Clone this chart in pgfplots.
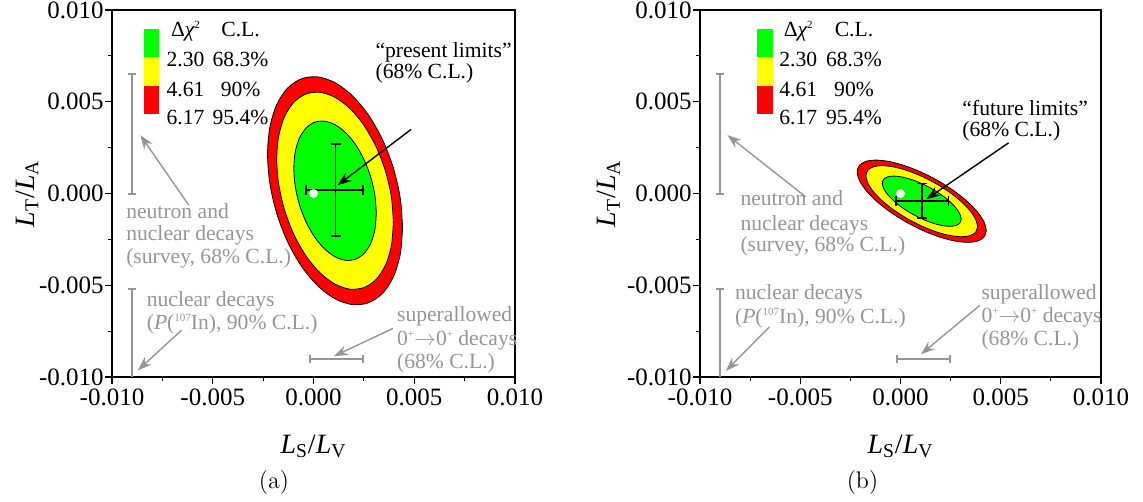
\documentclass[border=0pt]{standalone}
\usepackage{fontspec}
\newfontfamily\tms{Liberation Serif}
\usepackage{pgfplots}
\pgfplotsset{compat=1.18}
\usetikzlibrary{arrows.meta}

\definecolor{cgreen}{RGB}{0,255,0}
\definecolor{cyellow}{RGB}{255,255,0}
\definecolor{cred}{RGB}{255,0,0}
\definecolor{cgray}{RGB}{150,150,150}

\newcommand\annfont{\tms\fontsize{10.8}{12}\selectfont}
\newcommand\tsup[1]{\smash{\raisebox{0.8ex}{\fontsize{5.5}{6}\selectfont #1}}}

\tikzset{
  ann/.style={anchor=base west, inner sep=0pt, font=\annfont},
  gann/.style={ann, text=cgray},
  key/.style={anchor=base, font=\annfont},
}

\pgfplotsset{
  panel/.style={
    scale only axis, height=183.5pt,
    xmin=-10, xmax=10, ymin=-10, ymax=10,
    xtick={-10,-5,0,5,10}, ytick={-10,-5,0,5,10},
    xticklabels={-0.010,-0.005,0.000,0.005,0.010},
    yticklabels={-0.010,-0.005,0.000,0.005,0.010},
    minor tick num=1,
    tick align=outside, xtick pos=bottom, ytick pos=left,
    major tick length=3.5pt, minor tick length=2pt,
    every tick/.style={black, line width=0.6pt},
    axis line style={line width=0.7pt},
    tick label style={font=\tms\fontsize{12.5}{13}\selectfont},
    yticklabel style={inner xsep=0.5pt},
    xticklabel style={inner ysep=2pt},
    label style={font=\tms\fontsize{14}{16}\selectfont},
    xlabel={{\itshape L}\textsubscript{S}/{\itshape L}\textsubscript{V}},
    ylabel={{\itshape L}\textsubscript{T}/{\itshape L}\textsubscript{A}},
    xlabel style={at={(axis description cs:0.5,-0.19)}, anchor=center},
    clip=false,
    unbounded coords=jump,
  },
  cl red/.style={fill=cred, draw=black, line width=0.4pt, smooth},
  cl yellow/.style={fill=cyellow, draw=black, line width=0.4pt, smooth},
  cl green/.style={fill=cgreen, draw=black, line width=0.4pt, smooth},
  graybar/.style={cgray, line width=1pt},
  grayarrow/.style={cgray, line width=0.7pt, -{Stealth[length=7pt,width=5pt]}},
  blackarrow/.style={black, line width=0.7pt, -{Stealth[length=7pt,width=5pt]}},
  crossbar/.style={black, line width=0.8pt},
}

\begin{document}
\begin{tikzpicture}
\path[use as bounding box] (0,0) rectangle (571.5pt,-251pt);

% ---------------- panel (a): present limits ----------------
\begin{axis}[panel, width=201.5pt, at={(56pt,-188.5pt)}, anchor=south west,
  ylabel style={at={(axis description cs:-0.211,0.5)}, anchor=center}]

% confidence regions (Delta chi^2 = 6.17, 4.61, 2.30)
\addplot[cl red] coordinates {(4.42,-1.85) (4.306,-0.258) (3.971,1.363) (3.439,2.901) (2.745,4.251) (1.937,5.321) (1.07,6.04) (0.203,6.357) (-0.605,6.251) (-1.299,5.729) (-1.831,4.827) (-2.166,3.606) (-2.28,2.15) (-2.166,0.558) (-1.831,-1.063) (-1.299,-2.601) (-0.605,-3.951) (0.203,-5.021) (1.07,-5.74) (1.937,-6.057) (2.745,-5.951) (3.439,-5.429) (3.971,-4.527) (4.306,-3.306) (4.42,-1.85)} -- cycle;
\addplot[cl yellow] coordinates {(3.964,-1.578) (3.866,-0.203) (3.576,1.198) (3.117,2.527) (2.517,3.693) (1.819,4.618) (1.07,5.239) (0.321,5.513) (-0.377,5.421) (-0.977,4.97) (-1.436,4.191) (-1.726,3.136) (-1.824,1.878) (-1.726,0.503) (-1.436,-0.898) (-0.977,-2.227) (-0.377,-3.393) (0.321,-4.318) (1.07,-4.939) (1.819,-5.213) (2.517,-5.121) (3.117,-4.67) (3.576,-3.891) (3.866,-2.836) (3.964,-1.578)} -- cycle;
\addplot[cl green] coordinates {(3.117,-1.072) (3.047,-0.099) (2.843,0.891) (2.517,1.831) (2.093,2.656) (1.6,3.309) (1.07,3.749) (0.54,3.942) (0.047,3.878) (-0.377,3.559) (-0.703,3.008) (-0.907,2.262) (-0.977,1.372) (-0.907,0.399) (-0.703,-0.591) (-0.377,-1.531) (0.047,-2.356) (0.54,-3.009) (1.07,-3.449) (1.6,-3.642) (2.093,-3.578) (2.517,-3.259) (2.843,-2.708) (3.047,-1.962) (3.117,-1.072)} -- cycle;

% standard model point
\addplot[only marks, mark=*, mark size=2pt, mark options={fill=white, draw=white}] coordinates {(0,0)};

% best fit with 68% C.L. errors
\addplot[crossbar] coordinates {(1.1,-2.3) (1.1,2.7) (nan,nan) (0.85,2.7) (1.35,2.7) (nan,nan) (0.85,-2.3) (1.35,-2.3) (nan,nan)
  (-0.36,0.19) (2.46,0.19) (nan,nan) (-0.36,-0.08) (-0.36,0.46) (nan,nan) (2.46,-0.08) (2.46,0.46)};

% other experimental limits
\addplot[graybar] coordinates {(-9,0) (-9,6.5) (nan,nan) (-9.2,0) (-8.8,0) (nan,nan) (-9.2,6.5) (-8.8,6.5)};
\addplot[graybar] coordinates {(-9,-5.22) (-9,-10) (nan,nan) (-9.2,-5.22) (-8.8,-5.22)};
\addplot[graybar] coordinates {(-0.18,-9) (2.45,-9) (nan,nan) (-0.18,-9.22) (-0.18,-8.78) (nan,nan) (2.45,-9.22) (2.45,-8.78)};

\addplot[grayarrow] coordinates {(-6.19,-0.64) (-8.59,3.18)};
\addplot[grayarrow] coordinates {(-6.55,-7.45) (-8.72,-9.64)};
\addplot[grayarrow] coordinates {(3.95,-7.35) (1.01,-8.87)};
\addplot[blackarrow] coordinates {(4.84,3.49) (1.19,0.45)};

% colour key
\addplot[fill=cgreen, draw=none] coordinates {(-8.4,7.42) (-7.65,7.42) (-7.65,8.95) (-8.4,8.95)} -- cycle;
\addplot[fill=cyellow, draw=none] coordinates {(-8.4,5.87) (-7.65,5.87) (-7.65,7.42) (-8.4,7.42)} -- cycle;
\addplot[fill=cred, draw=none] coordinates {(-8.4,4.33) (-7.65,4.33) (-7.65,5.87) (-8.4,5.87)} -- cycle;
\node[key] at (axis cs:-6.35,8.58) {Δ{\itshape χ}\tsup{2}};
\node[key] at (axis cs:-3.62,8.58) {C.L.};
\node[key] at (axis cs:-6.35,6.91) {2.30};
\node[key] at (axis cs:-3.62,6.91) {68.3\%};
\node[key] at (axis cs:-6.35,5.27) {4.61};
\node[key] at (axis cs:-3.62,5.27) {90\%};
\node[key] at (axis cs:-6.35,3.78) {6.17};
\node[key] at (axis cs:-3.62,3.78) {95.4\%};

% annotations
\node[ann] at (axis cs:3.06,7.4) {“present limits”};
\node[ann] at (axis cs:3.06,6.24) {(68\% C.L.)};
\node[gann] at (axis cs:-9.31,-1.36) {neutron and};
\node[gann] at (axis cs:-9.31,-2.58) {nuclear decays};
\node[gann] at (axis cs:-9.31,-3.82) {(survey, 68\% C.L.)};
\node[gann] at (axis cs:-8.29,-6.15) {nuclear decays};
\node[gann] at (axis cs:-8.29,-7.42) {({\itshape P}(\tsup{107}In), 90\% C.L.)};
\node[gann] at (axis cs:4.13,-6.97) {superallowed};
\node[gann] at (axis cs:4.13,-8.27) {0\tsup{+}\ensuremath{\rightarrow}0\tsup{+} decays};
\node[gann] at (axis cs:4.13,-9.53) {(68\% C.L.)};
\end{axis}

% ---------------- panel (b): future limits ----------------
\begin{axis}[panel, width=200.5pt, at={(350pt,-188.5pt)}, anchor=south west,
  ylabel style={at={(axis description cs:-0.228,0.5)}, anchor=center}]

\addplot[cl red] coordinates {(4.28,-2.02) (4.17,-1.559) (3.849,-1.021) (3.337,-0.441) (2.67,0.14) (1.893,0.682) (1.06,1.15) (0.227,1.51) (-0.55,1.74) (-1.217,1.821) (-1.729,1.751) (-2.05,1.531) (-2.16,1.18) (-2.05,0.719) (-1.729,0.181) (-1.217,-0.399) (-0.55,-0.98) (0.227,-1.522) (1.06,-1.99) (1.893,-2.35) (2.67,-2.58) (3.337,-2.661) (3.849,-2.591) (4.17,-2.371) (4.28,-2.02)} -- cycle;
\addplot[cl yellow] coordinates {(3.842,-1.802) (3.747,-1.404) (3.47,-0.939) (3.027,-0.438) (2.451,0.064) (1.78,0.532) (1.06,0.936) (0.34,1.248) (-0.331,1.446) (-0.907,1.516) (-1.35,1.456) (-1.627,1.266) (-1.722,0.962) (-1.627,0.564) (-1.35,0.099) (-0.907,-0.402) (-0.331,-0.904) (0.34,-1.372) (1.06,-1.776) (1.78,-2.088) (2.451,-2.286) (3.027,-2.356) (3.47,-2.296) (3.747,-2.106) (3.842,-1.802)} -- cycle;
\addplot[cl green] coordinates {(3.027,-1.398) (2.96,-1.116) (2.764,-0.787) (2.451,-0.433) (2.044,-0.078) (1.569,0.253) (1.06,0.539) (0.551,0.759) (0.076,0.9) (-0.331,0.949) (-0.644,0.906) (-0.84,0.772) (-0.907,0.558) (-0.84,0.276) (-0.644,-0.053) (-0.331,-0.407) (0.076,-0.762) (0.551,-1.093) (1.06,-1.379) (1.569,-1.599) (2.044,-1.74) (2.451,-1.789) (2.764,-1.746) (2.96,-1.612) (3.027,-1.398)} -- cycle;

\addplot[only marks, mark=*, mark size=2pt, mark options={fill=white, draw=white}] coordinates {(0,0)};

\addplot[crossbar] coordinates {(1.07,-1.33) (1.07,0.55) (nan,nan) (0.82,0.55) (1.32,0.55) (nan,nan) (0.82,-1.33) (1.32,-1.33) (nan,nan)
  (-0.22,-0.4) (2.4,-0.4) (nan,nan) (-0.22,-0.67) (-0.22,-0.13) (nan,nan) (2.4,-0.67) (2.4,-0.13)};

\addplot[graybar] coordinates {(-9,0) (-9,6.5) (nan,nan) (-9.2,0) (-8.8,0) (nan,nan) (-9.2,6.5) (-8.8,6.5)};
\addplot[graybar] coordinates {(-9,-5.22) (-9,-10) (nan,nan) (-9.2,-5.22) (-8.8,-5.22)};
\addplot[graybar] coordinates {(-0.18,-9) (2.45,-9) (nan,nan) (-0.18,-9.22) (-0.18,-8.78) (nan,nan) (2.45,-9.22) (2.45,-8.78)};

\addplot[grayarrow] coordinates {(-4.73,-0.18) (-8.63,3.18)};
\addplot[grayarrow] coordinates {(-6.54,-7.27) (-8.71,-9.67)};
\addplot[grayarrow] coordinates {(3.95,-6.1) (1.02,-8.76)};
\addplot[blackarrow] coordinates {(5.39,2.76) (1.29,-0.31)};

\addplot[fill=cgreen, draw=none] coordinates {(-7.14,7.42) (-6.36,7.42) (-6.36,8.95) (-7.14,8.95)} -- cycle;
\addplot[fill=cyellow, draw=none] coordinates {(-7.14,5.87) (-6.36,5.87) (-6.36,7.42) (-7.14,7.42)} -- cycle;
\addplot[fill=cred, draw=none] coordinates {(-7.14,4.33) (-6.36,4.33) (-6.36,5.87) (-7.14,5.87)} -- cycle;
\node[key] at (axis cs:-5.1,8.58) {Δ{\itshape χ}\tsup{2}};
\node[key] at (axis cs:-2.32,8.58) {C.L.};
\node[key] at (axis cs:-5.1,6.91) {2.30};
\node[key] at (axis cs:-2.32,6.91) {68.3\%};
\node[key] at (axis cs:-5.1,5.27) {4.61};
\node[key] at (axis cs:-2.32,5.27) {90\%};
\node[key] at (axis cs:-5.1,3.78) {6.17};
\node[key] at (axis cs:-2.32,3.78) {95.4\%};

\node[ann] at (axis cs:3.07,4.27) {“future limits”};
\node[ann] at (axis cs:3.07,3.09) {(68\% C.L.)};
\node[gann] at (axis cs:-8.0,-0.67) {neutron and};
\node[gann] at (axis cs:-8.0,-2.0) {nuclear decays};
\node[gann] at (axis cs:-8.0,-3.18) {(survey, 68\% C.L.)};
\node[gann] at (axis cs:-8.27,-5.76) {nuclear decays};
\node[gann] at (axis cs:-8.27,-7.09) {({\itshape P}(\tsup{107}In), 90\% C.L.)};
\node[gann] at (axis cs:4.02,-5.76) {superallowed};
\node[gann] at (axis cs:4.02,-7.05) {0\tsup{+}\ensuremath{\rightarrow}0\tsup{+} decays};
\node[gann] at (axis cs:4.02,-8.27) {(68\% C.L.)};
\end{axis}

% panel captions
\node[font=\fontsize{12}{14}\selectfont] at (137pt,-241.5pt) {(a)};
\node[font=\fontsize{12}{14}\selectfont] at (431.25pt,-241.5pt) {(b)};
\end{tikzpicture}
\end{document}
